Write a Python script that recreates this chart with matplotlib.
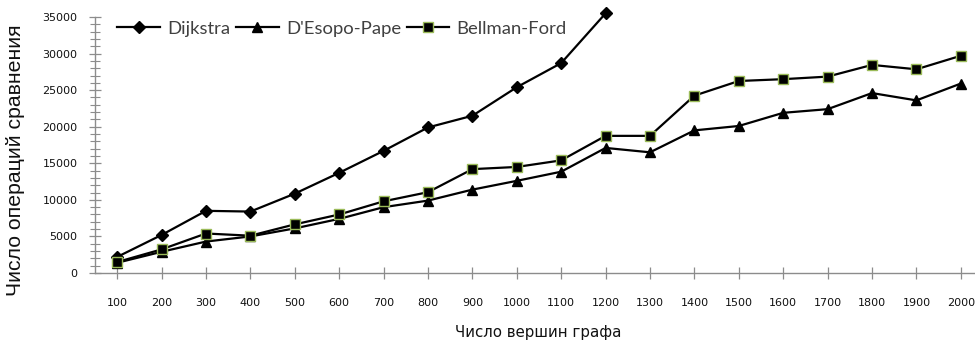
import matplotlib
matplotlib.use("Agg")
import matplotlib.pyplot as plt
from matplotlib.ticker import MultipleLocator

# Number of graph vertices (category axis)
vertices = ["100", "200", "300", "400", "500", "600", "700", "800", "900", "1000",
            "1100", "1200", "1300", "1400", "1500", "1600", "1700", "1800", "1900", "2000"]

# Comparison operation counts per algorithm
dijkstra = [2200, 5200, 8500, 8400, 10850, 13700, 16700, 19900, 21500, 25400,
            28700, 35500]
desopo_pape = [1400, 2900, 4300, 5000, 6100, 7400, 9000, 9900, 11400, 12600,
               13850, 17100, 16500, 19500, 20100, 21900, 22400, 24600, 23600, 25900]
bellman_ford = [1500, 3230, 5400, 5100, 6650, 8000, 9800, 11050, 14200, 14500,
                15400, 18750, 18750, 24250, 26250, 26500, 26850, 28450, 27850, 29700]

fig = plt.figure(figsize=(9.75, 3.41), dpi=100)
ax = fig.add_axes([95 / 975, 68 / 341, 888 / 975, 256 / 341])

x = list(range(len(vertices)))
line_kw = dict(color="black", linewidth=1.6)

ax.plot(x[:len(dijkstra)], dijkstra, marker="D", markersize=6.5,
        markerfacecolor="black", markeredgecolor="black",
        label="Dijkstra", clip_on=False, zorder=3, **line_kw)
ax.plot(x, desopo_pape, marker="^", markersize=7,
        markerfacecolor="black", markeredgecolor="black",
        label="D'Esopo-Pape", zorder=3, **line_kw)
ax.plot(x, bellman_ford, marker="s", markersize=7.5,
        markerfacecolor="black", markeredgecolor="#9bbb59", markeredgewidth=1.0,
        label="Bellman-Ford", zorder=4, **line_kw)

ax.set_xlim(-0.5, len(vertices) - 0.5)
ax.set_ylim(0, 35000)
ax.set_xticks(x)
ax.set_xticklabels(vertices)
ax.yaxis.set_major_locator(MultipleLocator(5000))
ax.yaxis.set_minor_locator(MultipleLocator(1000))

axis_color = "#8c8c8c"
for side in ("top", "right"):
    ax.spines[side].set_visible(False)
for side in ("left", "bottom"):
    ax.spines[side].set_color(axis_color)
    ax.spines[side].set_linewidth(1.0)

ax.tick_params(axis="x", which="major", direction="inout", length=8, width=0.9,
               color=axis_color, labelsize=8, pad=14, labelcolor="#111111")
ax.tick_params(axis="y", which="major", direction="inout", length=9, width=0.9,
               color=axis_color, labelsize=8, pad=8, labelcolor="#111111")
ax.tick_params(axis="y", which="minor", direction="inout", length=7, width=0.8,
               color=axis_color)
for lbl in ax.get_xticklabels() + ax.get_yticklabels():
    lbl.set_family("DejaVu Sans")

leg = ax.legend(loc="center left", bbox_to_anchor=(0.017, 0.955), ncol=3,
                frameon=False, handlelength=2.3, handletextpad=0.4,
                columnspacing=0.3, borderaxespad=0,
                prop={"family": "Lato", "size": 13.3})
for t in leg.get_texts():
    t.set_color("#404040")

fig.text(538 / 975, 1 - 333 / 341, "Число вершин графа", ha="center", va="center",
         fontsize=10.8, family="DejaVu Sans", color="#111111")
fig.text(16 / 975, 1 - 160 / 341, "Число операций сравнения", ha="center",
         va="center", rotation=90, fontsize=15.3, family="Liberation Sans",
         color="#111111")

fig.savefig("out.png", dpi=100, facecolor="white")
